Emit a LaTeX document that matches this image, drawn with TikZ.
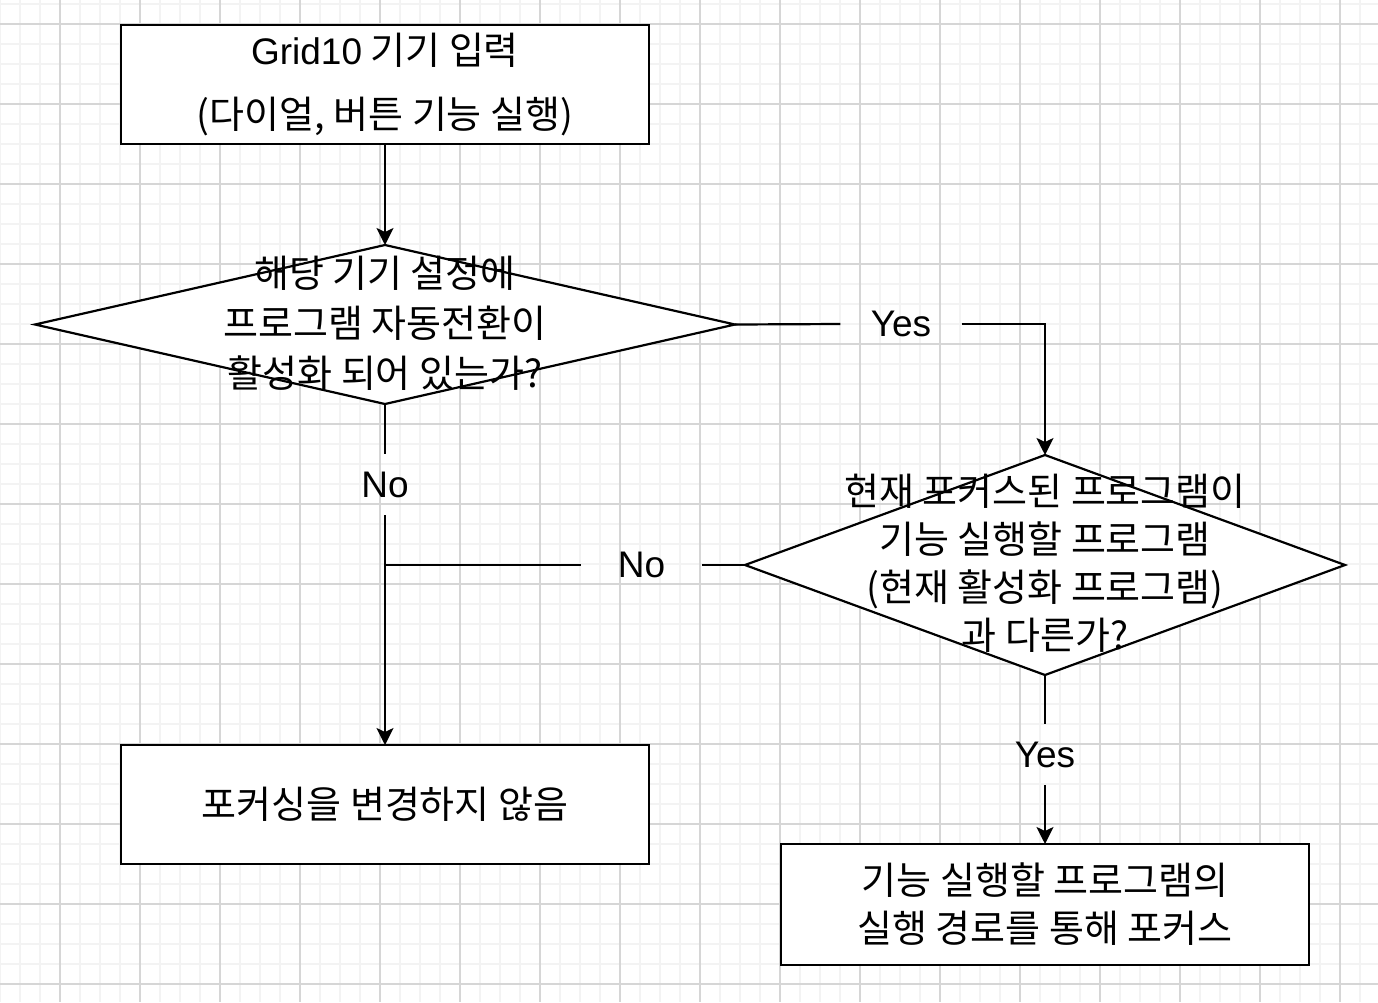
\documentclass[tikz,border=0pt]{standalone}
\usepackage{fontspec}
\setmainfont{Noto Sans CJK KR}
\newfontfamily\lat{Liberation Sans}
\usetikzlibrary{shapes.geometric,arrows.meta}
\definecolor{gminor}{HTML}{F3F3F3}
\definecolor{gmajor}{HTML}{D6D6D6}
\begin{document}
\begin{tikzpicture}[x=1pt,y=-1pt,
  box/.style={draw,line width=2.2pt,minimum width=528pt,minimum height=119pt,inner sep=0pt,outer sep=0pt,align=center,font=\fontsize{38}{48}\selectfont},
  dia/.style={draw,diamond,line width=2.2pt,inner sep=0pt,outer sep=0pt},
  txt/.style={align=center,inner sep=0pt,font=\fontsize{38}{48}\selectfont},
  lbl/.style={minimum width=121pt,minimum height=61pt,inner sep=0pt,font=\lat\fontsize{37}{40}\selectfont},
  conn/.style={line width=2.2pt},
  arr/.style={conn,-{Stealth[length=17pt,width=17pt,inset=4pt]}},
  minorline/.style={draw=gminor,line width=2pt},
  majorline/.style={draw=gmajor,line width=1.3pt}
]
\useasboundingbox (0,0) rectangle (1378,1002);
\fill[white] (0,0) rectangle (1378,1002);
% grid
\foreach \x in {0,20,...,1360} \draw[minorline] (\x,0) -- (\x,1002);
\foreach \y in {4,24,...,984} \draw[minorline] (0,\y) -- (1378,\y);
\foreach \x in {60,140,...,1340} \draw[majorline] (\x,0) -- (\x,1002);
\foreach \y in {24,104,...,984} \draw[majorline] (0,\y) -- (1378,\y);

% boxes
\node[box,fill=white,font=\fontsize{38}{64}\selectfont] (b1) at (385,84.5) {{\lat\fontsize{37}{64}\selectfont Grid10} 기기 입력\\(다이얼, 버튼 기능 실행)};
\node[box,fill=white] (b2) at (385,804.5) {포커싱을 변경하지 않음};
\node[box,fill=white,minimum height=121pt] (b3) at (1045,904.5) {기능 실행할 프로그램의\\실행 경로를 통해 포커스};

% diamonds
\node[dia,fill=white,minimum width=700pt,minimum height=159pt] (d1) at (385,324.5) {};
\node[txt,font=\fontsize{38}{50}\selectfont] (t1) at (385,323) {해당 기기 설정에\\프로그램 자동전환이\\활성화 되어 있는가?};
\node[dia,fill=white,minimum width=600pt,minimum height=220pt] (d2) at (1045,565) {};
\node[txt] (t2) at (1045,563.5) {현재 포커스된 프로그램이\\기능 실행할 프로그램\\(현재 활성화 프로그램)\\과 다른가?};

% labels
\node[lbl] (yes1) at (901,324) {Yes};
\node[lbl] (no1) at (385,484.5) {No};
\node[lbl] (no2) at (641.5,565) {No};
\node[lbl] (yes2) at (1045,754.5) {Yes};
\coordinate (j) at (no1.south |- d2.west);

% connectors
\draw[arr] (b1.south) -- (d1.north);
\draw[conn] (d1.east) -- (yes1.west);
\draw[arr] (yes1.east) -| (d2.north);
\draw[conn] (d1.south) -- (no1.north);
\draw[arr] (no1.south) -- (b2.north);
\draw[conn] (d2.west) -- (no2.east);
\draw[conn] (no2.west) -- (j);
\draw[conn] (d2.south) -- (yes2.north);
\draw[arr] (yes2.south) -- (b3.north);
\end{tikzpicture}
\end{document}
